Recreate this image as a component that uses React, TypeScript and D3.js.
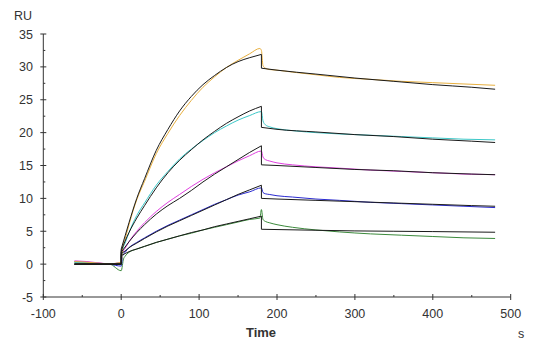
import * as d3 from 'd3'

type Pt = [number, number]

// y ticks / x ticks
const yTicks = [-5, 0, 5, 10, 15, 20, 25, 30, 35]
const xTicks = [-100, 0, 100, 200, 300, 400, 500]

// measured responses (RU) vs time (s)
const orangeData: Pt[] = [
  [-60, 0.4], [-45, 0.3], [-30, 0.15], [-15, 0.05], [0, 0.3], [2, 2.6], [5, 3.8], [10, 6.0], [20, 9.8], [30, 12.6],
  [45, 16.8], [60, 19.9], [75, 22.6], [90, 24.9], [105, 26.9], [120, 28.5], [135, 29.9],
  [150, 31.0], [165, 32.0], [178, 32.8], [180, 32.5], [182, 30.2], [185, 29.8], [190, 29.6],
  [200, 29.5], [220, 29.2], [250, 28.8], [280, 28.4], [320, 28.1], [360, 27.8], [400, 27.6],
  [440, 27.4], [480, 27.2],
]
const cyanData: Pt[] = [
  [-60, 0.3], [-45, 0.25], [-30, 0.1], [-15, 0.05], [0, 0.2], [2, 2.2], [5, 3.2], [10, 4.8], [20, 7.4], [30, 9.3],
  [45, 12.0], [60, 14.1], [75, 16.0], [90, 17.5], [105, 18.8], [120, 20.0], [135, 21.0],
  [150, 21.9], [165, 22.6], [180, 23.2], [182, 21.8], [185, 21.2], [190, 20.9], [200, 20.6],
  [220, 20.3], [250, 20.0], [280, 19.8], [320, 19.6], [360, 19.4], [400, 19.2], [440, 19.0],
  [480, 18.9],
]
const magentaData: Pt[] = [
  [-60, 0.5], [-45, 0.4], [-30, 0.2], [-15, 0.05], [0, 0.3], [2, 1.8], [5, 2.4], [10, 3.4], [20, 5.0], [30, 6.3],
  [45, 8.0], [60, 9.4], [75, 10.6], [90, 11.8], [105, 12.9], [120, 13.9], [135, 14.8],
  [150, 15.7], [165, 16.5], [180, 17.2], [182, 16.3], [185, 15.9], [190, 15.7], [200, 15.4],
  [220, 15.1], [250, 14.8], [280, 14.6], [320, 14.3], [360, 14.1], [400, 13.9], [440, 13.7],
  [480, 13.6],
]
const blueData: Pt[] = [
  [-60, 0.4], [-45, 0.3], [-30, 0.15], [-15, 0.0], [0, -0.3], [2, 1.3], [5, 1.8], [10, 2.5], [20, 3.3], [30, 4.0],
  [45, 5.0], [60, 5.9], [75, 6.7], [90, 7.5], [105, 8.3], [120, 9.1], [135, 9.8],
  [150, 10.5], [165, 11.0], [180, 11.6], [182, 10.9], [185, 10.7], [190, 10.6], [200, 10.4],
  [220, 10.2], [250, 9.9], [280, 9.7], [320, 9.4], [360, 9.2], [400, 9.0], [440, 8.8],
  [480, 8.6],
]
const greenData: Pt[] = [
  [-60, 0.2], [-45, 0.1], [-30, 0.05], [-15, 0.0], [0, -1.0], [3, 0.8], [5, 1.2], [10, 1.8], [20, 2.3], [30, 2.7],
  [45, 3.3], [60, 3.8], [75, 4.3], [90, 4.7], [105, 5.2], [120, 5.6], [135, 6.0],
  [150, 6.4], [165, 6.8], [178, 7.0], [180, 8.3], [182, 6.8], [185, 6.5], [190, 6.3],
  [200, 6.0], [220, 5.6], [250, 5.2], [280, 4.9], [320, 4.6], [360, 4.4], [400, 4.2],
  [440, 4.0], [480, 3.9],
]

// fitted curves (black)
const orangeFit: Pt[] = [
  [-60, 0], [0, 0], [0, 2.3], [5, 4.3], [10, 6.3], [20, 10.0], [30, 13.0], [45, 17.3], [60, 20.5],
  [75, 23.3], [90, 25.5], [105, 27.3], [120, 28.7], [135, 29.9], [150, 30.8], [165, 31.4],
  [180, 31.9], [180, 29.8], [200, 29.5], [250, 28.9], [300, 28.3], [350, 27.8], [400, 27.3],
  [450, 26.9], [480, 26.6],
]
const cyanFit: Pt[] = [
  [-60, 0], [0, 0], [0, 2.0], [5, 3.5], [10, 4.8], [20, 7.0], [30, 8.9], [45, 11.6], [60, 13.9],
  [75, 15.8], [90, 17.4], [105, 18.9], [120, 20.2], [135, 21.4], [150, 22.4], [165, 23.3],
  [180, 24.0], [180, 20.8], [200, 20.5], [250, 20.1], [300, 19.7], [350, 19.4], [400, 19.0],
  [450, 18.7], [480, 18.5],
]
const magentaFit: Pt[] = [
  [-60, 0], [0, 0], [0, 1.8], [5, 2.6], [10, 3.4], [20, 4.8], [30, 6.0], [45, 7.6], [60, 8.9],
  [75, 10.0], [90, 11.2], [105, 12.5], [120, 13.7], [135, 14.8], [150, 15.9], [165, 17.0],
  [180, 18.0], [180, 15.1], [200, 15.0], [250, 14.7], [300, 14.4], [350, 14.2], [400, 13.9],
  [450, 13.7], [480, 13.6],
]
const blueFit: Pt[] = [
  [-60, 0], [0, 0], [0, 1.6], [5, 2.0], [10, 2.5], [20, 3.2], [30, 3.9], [45, 4.9], [60, 5.8],
  [75, 6.6], [90, 7.4], [105, 8.2], [120, 9.0], [135, 9.8], [150, 10.6], [165, 11.3],
  [180, 12.0], [180, 10.0], [200, 9.9], [250, 9.7], [300, 9.5], [350, 9.3], [400, 9.1],
  [450, 8.9], [480, 8.8],
]
const greenFit: Pt[] = [
  [-60, 0], [0, 0], [0, 1.3], [5, 1.6], [10, 1.9], [20, 2.3], [30, 2.7], [45, 3.3], [60, 3.8],
  [75, 4.3], [90, 4.8], [105, 5.2], [120, 5.7], [135, 6.1], [150, 6.5], [165, 6.9],
  [180, 7.3], [180, 5.3], [250, 5.15], [300, 5.05], [350, 5.0], [400, 4.95], [480, 4.85],
]

const dataSeries = [
  { pts: greenData, color: '#3c8a3c' },
  { pts: blueData, color: '#2a2ad0' },
  { pts: magentaData, color: '#e040e0' },
  { pts: cyanData, color: '#3cc8c8' },
  { pts: orangeData, color: '#e8b040' },
]
const fitSeries = [greenFit, blueFit, magentaFit, cyanFit, orangeFit]

const W = 554
const H = 358
const font = '"Liberation Sans", Arial, sans-serif'

export default function App() {
  const x = d3.scaleLinear().domain([-100, 500]).range([43.3, 510.7])
  const y = d3.scaleLinear().domain([-5, 35]).range([297, 34])
  const smooth = d3.line<Pt>().x(d => x(d[0])).y(d => y(d[1])).curve(d3.curveMonotoneX)

  // split at vertical steps (repeated times) so the smooth curve never sees dx = 0
  const stepPath = (pts: Pt[]) => {
    const pieces: Pt[][] = [[pts[0]]]
    for (let i = 1; i < pts.length; i++) {
      if (pts[i][0] === pts[i - 1][0]) pieces.push([pts[i]])
      else pieces[pieces.length - 1].push(pts[i])
    }
    return pieces
      .map((p, i) => {
        const d = p.length > 1 ? smooth(p) ?? '' : `M${x(p[0][0])},${y(p[0][1])}`
        return i === 0 ? d : 'L' + d.slice(1)
      })
      .join('')
  }

  const xMinor = xTicks.slice(0, -1).map(t => t + 50)
  const yMinor = yTicks.slice(0, -1).map(t => t + 2.5)
  const axisColor = '#333'
  const x0 = x(-100)
  const y0 = y(-5)

  return (
    <svg width={W} height={H} style={{ position: 'absolute', left: 0, top: 0, background: '#fff' }}>
      <rect width={W} height={H} fill="#fff" />

      {dataSeries.map((s, i) => (
        <path key={'d' + i} d={smooth(s.pts) ?? ''} fill="none" stroke={s.color} strokeWidth={1} />
      ))}
      {fitSeries.map((pts, i) => (
        <path key={'f' + i} d={stepPath(pts)} fill="none" stroke="#1a1a1a" strokeWidth={1} />
      ))}

      {/* y axis */}
      <line x1={x0} x2={x0} y1={y(35)} y2={y0} stroke={axisColor} strokeWidth={1} />
      {yTicks.map(t => (
        <g key={'yt' + t}>
          <line x1={x0 - 3} x2={x0 + 3} y1={y(t)} y2={y(t)} stroke={axisColor} />
          <text x={33} y={y(t) + 4.5} textAnchor="end" fontSize={12.5} fontFamily={font} fill="#333">{t}</text>
        </g>
      ))}
      {yMinor.map(t => (
        <line key={'ym' + t} x1={x0} x2={x0 + 2} y1={y(t)} y2={y(t)} stroke={axisColor} />
      ))}
      <text x={14} y={20} fontSize={12.5} fontFamily={font} fill="#333">RU</text>

      {/* x axis */}
      <line x1={x0} x2={x(500)} y1={y0} y2={y0} stroke={axisColor} strokeWidth={1} />
      {xTicks.map(t => (
        <g key={'xt' + t}>
          <line x1={x(t)} x2={x(t)} y1={y0 - 3} y2={y0 + 3} stroke={axisColor} />
          <text x={x(t)} y={318} textAnchor="middle" fontSize={12.5} fontFamily={font} fill="#333">{t}</text>
        </g>
      ))}
      {xMinor.map(t => (
        <line key={'xm' + t} x1={x(t)} x2={x(t)} y1={y0 - 2} y2={y0} stroke={axisColor} />
      ))}
      <text x={261} y={337} textAnchor="middle" fontSize={13} fontWeight="bold" fontFamily={font} fill="#333">Time</text>
      <text x={518} y={338} fontSize={12.5} fontFamily={font} fill="#333">s</text>
    </svg>
  )
}
